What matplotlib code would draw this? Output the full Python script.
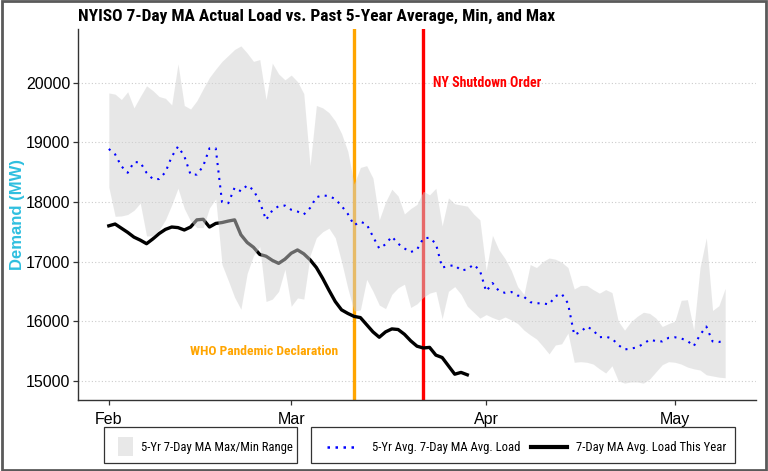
import numpy as np
import pandas as pd
import matplotlib
matplotlib.use('Agg')
import matplotlib.pyplot as plt
import matplotlib.dates as mdates
from matplotlib.patches import Rectangle
from matplotlib.lines import Line2D

# ---- data -----------------------------------------------------------------
START = '2020-02-01'

# 5-yr 7-day MA average load, daily from Feb 1
avg_load = [18890, 18800, 18600, 18490, 18670, 18665, 18490, 18385, 18385, 18500,
            18760, 18930, 18770, 18460, 18460, 18600, 18900, 18900, 18000, 17980,
            18240, 18180, 18280, 18200, 18000, 17700, 17860, 17930, 17940, 17870,
            17840, 17790, 17900, 18080, 18110, 18100, 18050, 17935, 17800, 17610,
            17670, 17625, 17420, 17220, 17290, 17420, 17300, 17220, 17160, 17200,
            17390, 17400, 17300, 16900, 16925, 16940, 16850, 16870, 16950, 16850,
            16500, 16640, 16510, 16475, 16490, 16430, 16410, 16320, 16300, 16300,
            16280, 16420, 16460, 16300, 15770, 15820, 15910, 15850, 15730, 15740,
            15710, 15600, 15525, 15540, 15560, 15620, 15690, 15665, 15660, 15720,
            15730, 15710, 15670, 15580, 15770, 15910, 15660, 15650, 15680]

# 5-yr max / min of the 7-day MA
max_load = [19830, 19810, 19720, 19850, 19580, 19770, 19950, 19870, 19770, 19740,
            19630, 20320, 19620, 19560, 19700, 19900, 20090, 20230, 20360, 20460,
            20560, 20620, 20500, 20360, 20390, 19720, 20330, 20150, 20050, 20130,
            20020, 19820, 18610, 19620, 19580, 19500, 19360, 19150, 18850, 18300,
            18580, 18610, 18400, 17700, 18000, 18215, 18100, 17800, 17890, 17960,
            18180, 18120, 18230, 17600, 18070, 17970, 17950, 17930, 17800, 17700,
            16850, 17440, 17200, 17050, 16850, 16580, 16450, 16950, 16900, 17000,
            17060, 17040, 16990, 16900, 16540, 16600, 16600, 16530, 16470, 16530,
            16480, 16000, 15850, 15990, 16080, 16150, 16130, 16050, 15910, 15960,
            16000, 16350, 16360, 15850, 16900, 17400, 16180, 16260, 16550]

min_load = [18250, 17760, 17765, 17790, 17860, 17980, 17430, 17430, 17530, 17700,
            17950, 18230, 17890, 17680, 17570, 17570, 17900, 18050, 16950, 16680,
            16400, 16200, 16800, 17100, 17250, 16330, 16370, 16500, 16870, 16250,
            16390, 16370, 17100, 17400, 17500, 17560, 17400, 17000, 16550, 16170,
            16190, 16700, 16500, 16270, 16210, 16450, 16560, 16620, 16230, 16290,
            16400, 16470, 16500, 16040, 16500, 16580, 16450, 16250, 16150, 16050,
            16110, 16060, 16020, 16070, 16020, 15960, 15850, 15770, 15700, 15580,
            15450, 15600, 15620, 15800, 15310, 15320, 15310, 15280, 15200, 15130,
            15250, 15000, 14960, 14980, 14980, 14960, 15030, 15150, 15270, 15320,
            15310, 15280, 15230, 15200, 15180, 15100, 15080, 15060, 15050]

# 7-day MA load this year
this_year = [17600, 17630, 17560, 17490, 17410, 17360, 17300, 17380, 17470, 17540,
             17580, 17570, 17530, 17580, 17700, 17710, 17580, 17640, 17655, 17680,
             17700, 17450, 17320, 17240, 17120, 17090, 17020, 16970, 17040, 17140,
             17195, 17130, 17030, 16900, 16720, 16520, 16330, 16190, 16130, 16080,
             16060, 15940, 15820, 15730, 15820, 15870, 15860, 15780, 15670, 15580,
             15550, 15560, 15430, 15390, 15250, 15110, 15140, 15100]

WHO_DATE = '2020-03-11'
NY_DATE = '2020-03-22'

LEGEND_LABELS = ['5-Yr 7-Day MA Max/Min Range',
                 '5-Yr Avg. 7-Day MA Avg. Load',
                 '7-Day MA Avg. Load This Year']

dates = pd.date_range(START, periods=len(avg_load), freq='D')
dates_ty = dates[:len(this_year)]

NARROW = ['Roboto Condensed', 'Liberation Sans', 'DejaVu Sans']
plt.rcParams['font.family'] = ['Liberation Sans', 'DejaVu Sans']

W, H = 768, 471
fig = plt.figure(figsize=(W / 100, H / 100), dpi=100)
ax = fig.add_axes([78 / W, 1 - 400 / H, (756 - 78) / W, (400 - 29) / H])


def fx(px):
    return px / W


def fy(py):
    return 1 - py / H


# event lines (drawn first so the band tints them)
ax.axvline(pd.Timestamp(WHO_DATE), color='#ffa500', lw=2.4, zorder=1)
ax.axvline(pd.Timestamp(NY_DATE), color='#ff0000', lw=2.4, zorder=1)

ax.plot(dates_ty, this_year, color='black', lw=2.4, solid_joinstyle='round', zorder=2)
ax.fill_between(dates, min_load, max_load, color='#d1d1d1', alpha=0.5, lw=0, zorder=3)
ax.plot(dates, avg_load, color='#0000ff', lw=1.5, linestyle=(0, (1, 2.6)), zorder=4)

# ggplot-like 5% expansion
lo = min(min(min_load), min(this_year))
hi = max(max_load)
pad = 0.05 * (hi - lo)
ax.set_ylim(lo - pad, hi + pad)
span = dates[-1] - dates[0]
ax.set_xlim(dates[0] - span * 0.05, dates[-1] + span * 0.05)

ax.set_yticks(np.arange(15000, 20001, 1000))
ax.xaxis.set_major_locator(mdates.MonthLocator())
ax.xaxis.set_major_formatter(mdates.DateFormatter('%b'))
ax.grid(axis='y', color='#cccccc', linestyle=(0, (1, 2)), lw=0.8)
ax.set_axisbelow(True)

for s in ['top', 'right']:
    ax.spines[s].set_visible(False)
for s in ['left', 'bottom']:
    ax.spines[s].set_color('#333333')
    ax.spines[s].set_linewidth(1.0)
ax.tick_params(axis='both', length=3.5, width=0.9, color='#333333',
               labelsize=11.5, labelcolor='black', pad=2)
ax.tick_params(axis='x', pad=5)

ax.set_ylabel('Demand (MW)', color='#2fbfdf', fontsize=12, fontweight='bold')
ax.yaxis.set_label_coords((25 - 78) / (756 - 78), 0.5)

fig.text(fx(78), fy(16), 'NYISO 7-Day MA Actual Load vs. Past 5-Year Average, Min, and Max',
         fontsize=12.5, fontweight='bold', family=NARROW, ha='left', va='center')

ax.text(pd.Timestamp(NY_DATE) + pd.Timedelta(days=1.5), 20000, 'NY Shutdown Order',
        color='#ff0000', fontsize=10, fontweight='bold', family=NARROW, ha='left', va='center')
ax.text(pd.Timestamp(WHO_DATE) - pd.Timedelta(days=2.5), 15490, 'WHO Pandemic Declaration',
        color='#ffa500', fontsize=9.7, fontweight='bold', family=NARROW, ha='right', va='center')

# ---- legends below the plot, laid out by hand ----
LEG_Y = 447
LEG_FS = 9.1
for x0, x1 in [(104, 297), (311, 735)]:
    fig.patches.append(Rectangle((fx(x0), fy(463)), fx(x1 - x0), (463 - 427) / H,
                                 transform=fig.transFigure, fill=False,
                                 edgecolor='#333333', lw=0.9))
fig.patches.append(Rectangle((fx(118), fy(456)), fx(15), 19 / H, transform=fig.transFigure,
                             facecolor='#e8e8e8', edgecolor='none'))
fig.text(fx(141), fy(LEG_Y), LEGEND_LABELS[0], fontsize=LEG_FS, family=NARROW,
         ha='left', va='center')
fig.add_artist(Line2D([fx(327), fx(358)], [fy(LEG_Y)] * 2, transform=fig.transFigure,
                      color='#0000ff', lw=1.8, linestyle=(0, (1, 2.2))))
fig.text(fx(372), fy(LEG_Y), LEGEND_LABELS[1], fontsize=LEG_FS, family=NARROW,
         ha='left', va='center')
fig.add_artist(Line2D([fx(531), fx(567)], [fy(LEG_Y)] * 2, transform=fig.transFigure,
                      color='black', lw=3))
fig.text(fx(576), fy(LEG_Y), LEGEND_LABELS[2], fontsize=LEG_FS, family=NARROW,
         ha='left', va='center')

# outer frame
fig.patches.append(Rectangle((0.002, 0.003), 0.996, 0.994, transform=fig.transFigure,
                             fill=False, edgecolor='#5a5a5a', lw=2.0))

fig.savefig('out.png', dpi=100)
